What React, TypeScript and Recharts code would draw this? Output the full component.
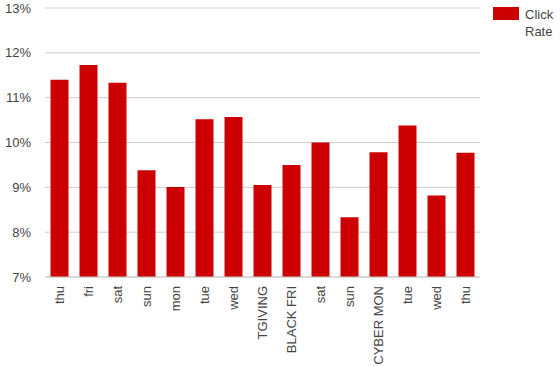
import React from "react";
import { BarChart, Bar, XAxis, YAxis, CartesianGrid } from "recharts";

const categories = ["thu", "fri", "sat", "sun", "mon", "tue", "wed", "TGIVING", "BLACK FRI", "sat", "sun", "CYBER MON", "tue", "wed", "thu"];
const clickRate = [11.4, 11.73, 11.33, 9.38, 9.01, 10.52, 10.57, 9.05, 9.5, 10.0, 8.33, 9.78, 10.38, 8.82, 9.77];
const yTicks = [7, 8, 9, 10, 11, 12, 13];
const seriesName = ["Click", "Rate"];

const data = categories.map((c, i) => ({ idx: i, name: c, value: clickRate[i] }));

const FONT = "'Liberation Sans', Arial, sans-serif";

const XTick = (props: any) => {
  const { x, y, payload } = props;
  const label = categories[payload.value];
  return (
    <text
      x={x}
      y={y}
      transform={`rotate(-90, ${x}, ${y})`}
      textAnchor="end"
      dy={4.5}
      fontSize={13}
      fontFamily={FONT}
      fill="#444"
    >
      {label}
    </text>
  );
};

export default function App() {
  return (
    <div style={{ position: "absolute", left: 0, top: 0, width: 560, height: 367, background: "#fff" }}>
      <BarChart
        width={560}
        height={367}
        data={data}
        margin={{ top: 8, right: 80, bottom: 0, left: 0 }}
        barCategoryGap="19%"
      >
        <CartesianGrid horizontal vertical={false} stroke="#cccccc" />
        <XAxis
          dataKey="idx"
          type="category"
          height={90}
          interval={0}
          tickLine={false}
          axisLine={{ stroke: "#cccccc" }}
          tick={<XTick />}
          tickMargin={4}
          tickSize={5}
        />
        <YAxis
          width={45}
          domain={[7, 13]}
          ticks={yTicks}
          allowDataOverflow
          tickFormatter={(v: number) => `${v}%`}
          tickLine={false}
          axisLine={false}
          tickSize={12}
          tickMargin={2}
          tick={{ fontSize: 13, fontFamily: FONT, fill: "#444" }}
        />
        <Bar dataKey="value" fill="#cc0000" isAnimationActive={false} />
      </BarChart>
      <svg width={70} height={40} style={{ position: "absolute", left: 493, top: 7, overflow: "visible" }}>
        <rect x={0} y={0} width={26} height={13} fill="#cc0000" />
        <text x={32} y={12} fontSize={13} fontFamily={FONT} fill="#444">{seriesName[0]}</text>
        <text x={32} y={29} fontSize={13} fontFamily={FONT} fill="#444">{seriesName[1]}</text>
      </svg>
    </div>
  );
}
